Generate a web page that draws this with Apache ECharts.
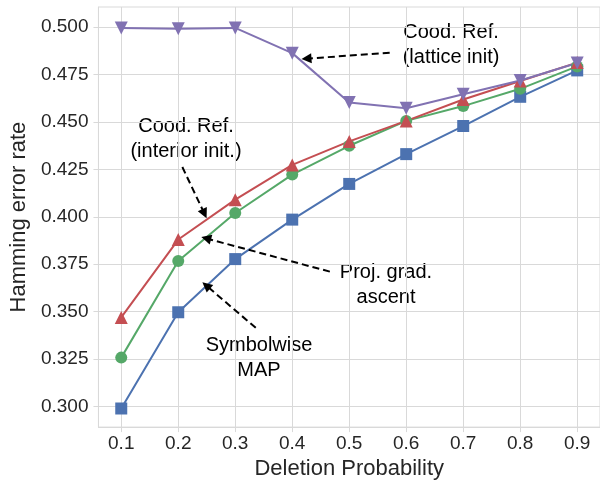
<!DOCTYPE html>
<html><head><meta charset="utf-8">
<script src="https://cdn.jsdelivr.net/npm/echarts@6/dist/echarts.min.js"></script>
<style>html,body{margin:0;padding:0;background:#fff}#c{width:600px;height:485px}</style>
</head><body><div id="c"></div>
<script>
const deletionProb = [0.1, 0.2, 0.3, 0.4, 0.5, 0.6, 0.7, 0.8, 0.9];
const symbolwiseMAP = [0.299, 0.3497, 0.3777, 0.3985, 0.4173, 0.433, 0.4478, 0.4632, 0.4771];
const projGradAscent = [0.3258, 0.3767, 0.402, 0.4222, 0.4374, 0.4505, 0.4583, 0.4674, 0.4792];
const coodRefInterior = [0.347, 0.388, 0.409, 0.4273, 0.4397, 0.4505, 0.4618, 0.4715, 0.4812];
const coodRefLattice = [0.4995, 0.499, 0.4995, 0.4862, 0.4602, 0.4572, 0.4645, 0.4718, 0.481];
const xTicks = [0.1, 0.2, 0.3, 0.4, 0.5, 0.6, 0.7, 0.8, 0.9];
const yTicks = [0.300, 0.325, 0.350, 0.375, 0.400, 0.425, 0.450, 0.475, 0.500];

const font = '"Liberation Sans", Arial, sans-serif';
const txt = '#262626';
const gridCol = '#d9d9d9';

function pairs(ys){ return deletionProb.map((x,i)=>[x, ys[i]]); }

const arrowStyle = {color:'#000', type:[7,4], width:2};
function arrow(from, to){ return [{coord:from}, {coord:to}]; }
const ml = (data)=>({silent:true, symbol:['none','triangle'], symbolSize:10, lineStyle:arrowStyle, itemStyle:{color:'#000'}, label:{show:false}, emphasis:{disabled:true}, data:data});

const chart = echarts.init(document.getElementById('c'));
chart.setOption({
  backgroundColor:'#fff',
  animation:false,
  grid:{left:97, top:7, right:-4, bottom:55, show:true, borderColor:gridCol, borderWidth:1},
  xAxis:{
    type:'value', min:0.06, max:0.94,
    name:'Deletion Probability', nameLocation:'middle', nameGap:30,
    nameTextStyle:{fontFamily:font, fontSize:22, color:txt},
    axisLine:{show:true, lineStyle:{color:gridCol}},
    axisTick:{show:true, length:5, lineStyle:{color:gridCol}, customValues:xTicks},
    axisLabel:{fontFamily:font, fontSize:19, color:txt, margin:7, customValues:xTicks, formatter:v=>v.toFixed(1)},
    splitLine:{show:true, lineStyle:{color:gridCol, width:1}}
  },
  yAxis:{
    type:'value', min:0.2892, max:0.5105,
    name:'Hamming error rate', nameLocation:'middle', nameGap:66, nameRotate:90,
    nameTextStyle:{fontFamily:font, fontSize:22, color:txt},
    axisLine:{show:true, lineStyle:{color:gridCol}},
    axisTick:{show:true, length:5, lineStyle:{color:gridCol}, customValues:yTicks},
    axisLabel:{fontFamily:font, fontSize:19, color:txt, margin:10, customValues:yTicks, formatter:v=>v.toFixed(3)},
    splitLine:{show:true, lineStyle:{color:gridCol, width:1}}
  },
  series:[
    {name:'Symbolwise MAP', type:'line', data:pairs(symbolwiseMAP), symbol:'rect', symbolSize:12,
     itemStyle:{color:'#4C72B0'}, lineStyle:{color:'#4C72B0', width:2},
     markLine:ml([arrow([0.336,0.3415],[0.249,0.3638]), arrow([0.466,0.3711],[0.249,0.3886])])},
    {name:'Proj. grad. ascent', type:'line', data:pairs(projGradAscent), symbol:'circle', symbolSize:12,
     itemStyle:{color:'#55A868'}, lineStyle:{color:'#55A868', width:2}},
    {name:'Cood. Ref. (interior init.)', type:'line', data:pairs(coodRefInterior), symbol:'triangle', symbolSize:13,
     itemStyle:{color:'#C44E52'}, lineStyle:{color:'#C44E52', width:2},
     markLine:ml([arrow([0.2072,0.4262],[0.246,0.4016])])},
    {name:'Cood. Ref. (lattice init)', type:'line', data:pairs(coodRefLattice), symbol:'triangle', symbolRotate:180, symbolSize:13,
     itemStyle:{color:'#8172B2'}, lineStyle:{color:'#8172B2', width:2},
     markLine:ml([arrow([0.571,0.4864],[0.425,0.4833])])}
  ],
  graphic:[
    {type:'text', x:451, y:45, style:{text:'Cood. Ref.\n(lattice init)', fontFamily:font, fontSize:20, fill:'#000', align:'center', verticalAlign:'middle', lineHeight:25}},
    {type:'text', x:186, y:139, style:{text:'Cood. Ref.\n(interior init.)', fontFamily:font, fontSize:20, fill:'#000', align:'center', verticalAlign:'middle', lineHeight:25}},
    {type:'text', x:386, y:285, style:{text:'Proj. grad.\nascent', fontFamily:font, fontSize:20, fill:'#000', align:'center', verticalAlign:'middle', lineHeight:25}},
    {type:'text', x:259, y:358, style:{text:'Symbolwise\nMAP', fontFamily:font, fontSize:20, fill:'#000', align:'center', verticalAlign:'middle', lineHeight:25}}
  ]
});
</script></body></html>
